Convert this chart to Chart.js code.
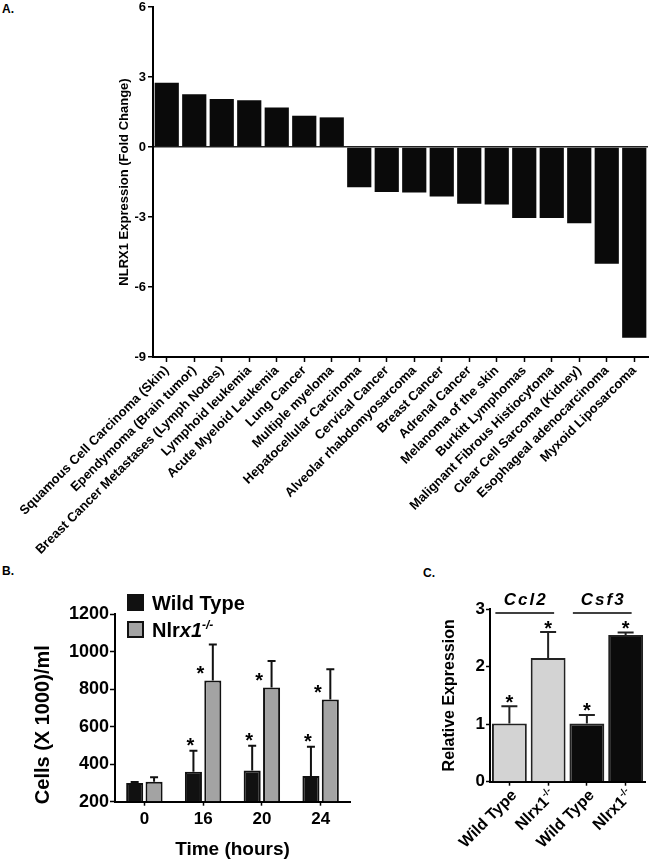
<!DOCTYPE html>
<html>
<head>
<title>NLRX1 expression figure</title>
<script src="https://cdn.jsdelivr.net/npm/chart.js"></script>
<style>
  body { margin: 0; background: #fff; width: 650px; height: 864px; position: relative; overflow: hidden;
         font-family: Arial, "Liberation Sans", sans-serif; }
  .tag { position: absolute; font-weight: bold; font-size: 12px; }
  canvas { position: absolute; }
</style>
</head>
<body>
<div class="tag" style="left:2px;top:2px">A.</div>
<div class="tag" style="left:2px;top:564px">B.</div>
<div class="tag" style="left:423px;top:566px">C.</div>
<canvas id="chartA" width="650" height="570" style="left:0;top:0"></canvas>
<canvas id="chartB" width="360" height="304" style="left:0;top:560px"></canvas>
<canvas id="chartC" width="300" height="304" style="left:350px;top:560px"></canvas>

<script>
// ---- panel A data
var tumorTypes = [
  'Squamous Cell Carcinoma (Skin)', 'Ependymoma (Brain tumor)', 'Breast Cancer Metastases (Lymph Nodes)',
  'Lymphoid leukemia', 'Acute Myeloid Leukemia', 'Lung Cancer', 'Multiple myeloma',
  'Hepatocellular Carcinoma', 'Cervical Cancer', 'Alveolar rhabdomyosarcoma', 'Breast Cancer',
  'Adrenal Cancer', 'Melanoma of the skin', 'Burkitt Lymphomas', 'Malignant Fibrous Histiocytoma',
  'Clear Cell Sarcoma (Kidney)', 'Esophageal adenocarcinoma', 'Myxoid Liposarcoma'
];
var foldChange = [2.75, 2.26, 2.06, 2.0, 1.69, 1.34, 1.27, -1.73, -1.93, -1.95, -2.12, -2.43,
                  -2.46, -3.04, -3.04, -3.27, -5.0, -8.17];

// ---- panel B data
var timePoints = ['0', '16', '20', '24'];
var genotypes = ['Wild Type', 'Nlrx1-/-'];
var wtCells = [299, 360, 366, 337];
var wtErr = [6, 112, 132, 156];
var koCells = [306, 846, 809, 744];
var koErr = [24, 192, 140, 162];
var wtSig = [false, true, true, true];
var koSig = [false, true, true, true];

// ---- panel C data
var genes = ['Ccl2', 'Csf3'];
var sampleLabels = ['Wild Type', 'Nlrx1-/-', 'Wild Type', 'Nlrx1-/-'];
var sampleGene = ['Ccl2', 'Ccl2', 'Csf3', 'Csf3'];
var relExpr = [1.01, 2.15, 1.01, 2.55];
var relErr = [0.30, 0.45, 0.15, 0.04];
var relSig = [true, true, true, true];

var FONT = 'Arial, "Liberation Sans", sans-serif';
Chart.defaults.font.family = FONT;
Chart.defaults.color = '#000';
Chart.defaults.animation = false;

// split a genotype label into text runs: [text, italic, superscript]
function labelRuns(label, italicGene) {
  if (label.slice(-3) !== '-/-') return [[label, false, false]];
  var base = label.slice(0, -3);
  if (italicGene) return [[base.slice(0, 3), false, false], [base.slice(3), true, false], ['-/-', true, true]];
  return [[base, false, false], ['-/-', false, true]];
}

function drawRuns(ctx, runs, x, y, size, alignRight) {
  function f(r) { return (r[1] ? 'italic ' : '') + 'bold ' + (r[2] ? Math.round(size * 0.62) : size) + 'px ' + FONT; }
  var total = 0;
  runs.forEach(function (r) { ctx.font = f(r); total += ctx.measureText(r[0]).width; });
  var cx = alignRight ? x - total : x;
  ctx.textAlign = 'left';
  runs.forEach(function (r) {
    ctx.font = f(r);
    ctx.fillText(r[0], cx, r[2] ? y - size * 0.42 : y);
    cx += ctx.measureText(r[0]).width;
  });
}

function drawStar(ctx, x, cy) {
  ctx.font = 'bold 20px ' + FONT;
  ctx.textAlign = 'center';
  ctx.textBaseline = 'alphabetic';
  ctx.fillStyle = '#000';
  ctx.fillText('*', x, cy + 11.5);
}

function errorBar(ctx, x, y0, y1, cap) {
  ctx.beginPath();
  ctx.moveTo(x, y0); ctx.lineTo(x, y1);
  ctx.moveTo(x - cap, y1); ctx.lineTo(x + cap, y1);
  ctx.stroke();
}

// ================= A =================
new Chart(document.getElementById('chartA'), {
  type: 'bar',
  data: {
    labels: tumorTypes,
    datasets: [{ data: foldChange, backgroundColor: '#0a0a0a', borderWidth: 0,
                 barPercentage: 0.88, categoryPercentage: 1 }]
  },
  options: {
    responsive: false,
    layout: { padding: { top: 7, right: 2, left: 0, bottom: 0 } },
    plugins: { legend: { display: false }, tooltip: { enabled: false } },
    scales: {
      x: {
        grid: { drawOnChartArea: false, offset: false, tickLength: 5, tickColor: '#000', tickWidth: 1.5 },
        border: { color: '#000', width: 2 },
        ticks: { autoSkip: false, minRotation: 45, maxRotation: 45, padding: 1,
                 font: { size: 13, weight: 'bold' } },
        afterFit: function (s) { s.height = 213; s.paddingLeft = 0; s.paddingRight = 0; }
      },
      y: {
        min: -9, max: 6,
        ticks: { stepSize: 3, padding: 2, font: { size: 13, weight: 'bold' } },
        grid: { color: function (c) { return c.tick && c.tick.value === 0 ? '#222' : 'rgba(0,0,0,0)'; },
                lineWidth: 1.5, tickColor: '#000', tickLength: 5 },
        border: { color: '#000', width: 2 },
        title: { display: true, text: 'NLRX1 Expression (Fold Change)', font: { size: 13, weight: 'bold' },
                 padding: { top: 117 } },
        afterFit: function (s) { s.width = 153; s.paddingTop = 0; s.paddingBottom = 0; }
      }
    }
  }
});

// ================= B =================
var cellExtras = {
  id: 'cellExtras',
  afterDatasetsDraw: function (chart) {
    var ctx = chart.ctx, y = chart.scales.y, area = chart.chartArea;
    var series = [[wtCells, wtErr, wtSig], [koCells, koErr, koSig]];
    ctx.save();
    ctx.strokeStyle = '#111';
    ctx.lineWidth = 2;
    series.forEach(function (s, di) {
      chart.getDatasetMeta(di).data.forEach(function (bar, i) {
        var top = y.getPixelForValue(s[0][i] + s[1][i]);
        errorBar(ctx, bar.x, bar.y, top, 4);
        if (!s[2][i]) return;
        if (di === 0) drawStar(ctx, bar.x - 3, top - 10);
        else drawStar(ctx, bar.x - bar.width / 2 - 4, bar.y - 12);
      });
    });
    // legend
    var fills = ['#111', '#a3a3a3'];
    genotypes.forEach(function (g, k) {
      var bx = area.left + 13, by = area.top - 19 + k * 27;
      ctx.fillStyle = fills[k];
      ctx.fillRect(bx, by, 15, 15);
      ctx.strokeStyle = '#111';
      ctx.strokeRect(bx, by, 15, 15);
      ctx.fillStyle = '#000';
      ctx.textBaseline = 'alphabetic';
      drawRuns(ctx, labelRuns(g, true), bx + 24, by + 15, 20, false);
    });
    // y axis title, placed a little below the axis middle as in the figure
    ctx.save();
    ctx.translate(43, area.bottom - 77);
    ctx.rotate(-Math.PI / 2);
    ctx.font = 'bold 20px ' + FONT;
    ctx.textAlign = 'center';
    ctx.textBaseline = 'middle';
    ctx.fillText('Cells (X 1000)/ml', 0, 0);
    ctx.restore();
    ctx.restore();
  }
};

new Chart(document.getElementById('chartB'), {
  type: 'bar',
  data: {
    labels: timePoints,
    datasets: [
      { label: genotypes[0], data: wtCells, backgroundColor: '#111', borderColor: '#111', borderWidth: 2,
        base: 200, barPercentage: 0.88, categoryPercentage: 0.66 },
      { label: genotypes[1], data: koCells, backgroundColor: '#a3a3a3', borderColor: '#111', borderWidth: 2,
        base: 200, barPercentage: 0.88, categoryPercentage: 0.66 }
    ]
  },
  options: {
    responsive: false,
    layout: { padding: { top: 54, right: 10, left: 0, bottom: 0 } },
    plugins: { legend: { display: false }, tooltip: { enabled: false } },
    scales: {
      x: {
        grid: { drawOnChartArea: false, offset: false, tickLength: 4, tickColor: '#000', tickWidth: 1.5 },
        border: { color: '#000', width: 2 },
        ticks: { padding: 3, font: { size: 17, weight: 'bold' } },
        title: { display: true, text: 'Time (hours)', font: { size: 19, weight: 'bold' }, padding: { bottom: 3 } },
        afterFit: function (s) { s.height = 62.3; s.paddingLeft = 0; s.paddingRight = 0; }
      },
      y: {
        min: 200, max: 1200,
        ticks: { stepSize: 200, padding: 1, font: { size: 18, weight: 'bold' },
                 callback: function (v) { return String(v); } },
        grid: { drawOnChartArea: false, tickLength: 5, tickColor: '#000', tickWidth: 1.5 },
        border: { color: '#000', width: 2 },
        afterFit: function (s) { s.width = 115; s.paddingTop = 0; s.paddingBottom = 0; }
      }
    }
  },
  plugins: [cellExtras]
});

// ================= C =================
var exprExtras = {
  id: 'exprExtras',
  afterDatasetsDraw: function (chart) {
    var ctx = chart.ctx, y = chart.scales.y, area = chart.chartArea;
    var bars = chart.getDatasetMeta(0).data;
    ctx.save();
    ctx.strokeStyle = '#222';
    ctx.lineWidth = 2;
    bars.forEach(function (bar, i) {
      var top = y.getPixelForValue(relExpr[i] + relErr[i]);
      errorBar(ctx, bar.x, bar.y, top, 8);
      if (relSig[i]) drawStar(ctx, bar.x, top - 9);
    });
    // gene brackets
    genes.forEach(function (g) {
      var idx = [];
      sampleGene.forEach(function (s, i) { if (s === g) idx.push(i); });
      var x0 = bars[idx[0]].x - 14, x1 = bars[idx[idx.length - 1]].x + 6;
      var ly = area.top + 4;
      ctx.strokeStyle = '#000';
      ctx.lineWidth = 1.5;
      ctx.beginPath(); ctx.moveTo(x0, ly); ctx.lineTo(x1, ly); ctx.stroke();
      ctx.fillStyle = '#000';
      ctx.font = 'italic bold 17px ' + FONT;
      ctx.letterSpacing = '2px';
      ctx.textAlign = 'center';
      ctx.textBaseline = 'alphabetic';
      ctx.fillText(g, (x0 + x1) / 2 + 1, ly - 8);
      ctx.letterSpacing = '0px';
    });
    // rotated sample labels
    ctx.fillStyle = '#000';
    ctx.textBaseline = 'alphabetic';
    bars.forEach(function (bar, i) {
      ctx.save();
      ctx.translate(bar.x + 4, area.bottom + 10);
      ctx.rotate(-Math.PI / 4);
      drawRuns(ctx, labelRuns(sampleLabels[i], false), 0, 6, 16, true);
      ctx.restore();
    });
    ctx.restore();
  }
};

new Chart(document.getElementById('chartC'), {
  type: 'bar',
  data: {
    labels: sampleLabels,
    datasets: [{
      data: relExpr,
      backgroundColor: sampleGene.map(function (g) { return g === genes[0] ? '#d3d3d3' : '#0b0b0b'; }),
      borderColor: '#222', borderWidth: 2, barPercentage: 0.9, categoryPercentage: 1
    }]
  },
  options: {
    responsive: false,
    layout: { padding: { top: 49, right: 5, left: 0, bottom: 0 } },
    plugins: { legend: { display: false }, tooltip: { enabled: false } },
    scales: {
      x: {
        grid: { drawOnChartArea: false, offset: false, tickLength: 4, tickColor: '#000', tickWidth: 1.5 },
        border: { color: '#000', width: 2 },
        ticks: { display: false },
        afterFit: function (s) { s.height = 82.3; s.paddingLeft = 0; s.paddingRight = 0; }
      },
      y: {
        min: 0, max: 3,
        ticks: { stepSize: 1, padding: 1, font: { size: 17, weight: 'bold' } },
        grid: { drawOnChartArea: false, tickLength: 4, tickColor: '#000', tickWidth: 1.5 },
        border: { color: '#000', width: 2 },
        title: { display: true, text: 'Relative Expression', font: { size: 16, weight: 'bold' }, padding: { top: 90 } },
        afterFit: function (s) { s.width = 140; s.paddingTop = 0; s.paddingBottom = 0; }
      }
    }
  },
  plugins: [exprExtras]
});
</script>
</body>
</html>
